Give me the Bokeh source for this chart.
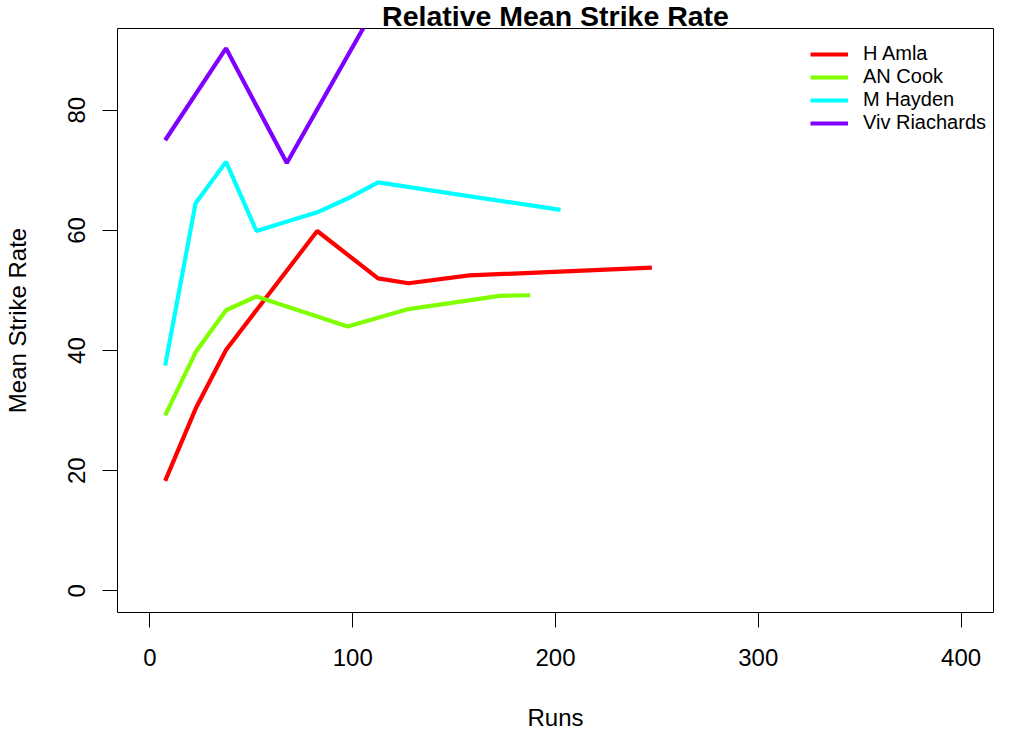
from bokeh.plotting import figure
from bokeh.models import Range1d, Legend, LegendItem, FixedTicker
from bokeh.embed import file_html
from bokeh.resources import INLINE

# Data
players = ["H Amla", "AN Cook", "M Hayden", "Viv Riachards"]
colors = ["#FF0000", "#80FF00", "#00FFFF", "#8000FF"]

amla_runs = [7.5, 22.5, 37.5, 82.5, 112.5, 127.5, 157.5, 247.5]
amla_sr = [18.3, 30.3, 40.1, 59.9, 52.0, 51.2, 52.5, 53.8]

cook_runs = [7.5, 22.5, 37.5, 52.5, 97.5, 127.5, 172.5, 187.5]
cook_sr = [29.2, 39.7, 46.7, 49.0, 44.0, 46.9, 49.1, 49.2]

hayden_runs = [7.5, 22.5, 37.5, 52.5, 82.5, 97.5, 112.5, 202.5]
hayden_sr = [37.5, 64.5, 71.4, 59.9, 63.0, 65.3, 68.0, 63.4]

richards_runs = [7.5, 37.5, 67.5, 112.5]
richards_sr = [75.0, 90.3, 71.2, 98.0]

x_ticks = [0, 100, 200, 300, 400]
y_ticks = [0, 20, 40, 60, 80]

FONT = "Liberation Sans"

p = figure(
    frame_width=876, frame_height=584,
    min_border_left=117, min_border_right=23, min_border_top=28, min_border_bottom=117,
    x_range=Range1d(-16, 416), y_range=Range1d(-3.6, 93.6),
    output_backend="svg", toolbar_location=None,
    title="Relative Mean Strike Rate",
)
p.grid.visible = False
p.outline_line_color = "black"
p.outline_line_width = 1
p.background_fill_color = "white"
p.border_fill_color = "white"

p.title.align = "center"
p.title.text_font = FONT
p.title.text_font_size = "28.5px"
p.title.text_font_style = "bold"
p.title.text_color = "black"
p.title.standoff = -6
p.title.offset = 0

series = [
    (amla_runs, amla_sr),
    (cook_runs, cook_sr),
    (hayden_runs, hayden_sr),
    (richards_runs, richards_sr),
]
items = []
for (xs, ys), name, col in zip(series, players, colors):
    r = p.line(xs, ys, line_color=col, line_width=4.2)
    items.append(LegendItem(label=name, renderers=[r]))

# Axes
for ax in (p.xaxis[0], p.yaxis[0]):
    ax.axis_line_color = None
    ax.major_tick_out = 15
    ax.major_tick_in = 0
    ax.minor_tick_line_color = None
    ax.major_tick_line_color = "black"
    ax.major_label_text_font = FONT
    ax.major_label_text_font_size = "24px"
    ax.major_label_text_color = "black"
    ax.axis_label_text_font = FONT
    ax.axis_label_text_font_size = "24px"
    ax.axis_label_text_font_style = "normal"
    ax.axis_label_text_color = "black"

p.xaxis.ticker = FixedTicker(ticks=x_ticks)
p.yaxis.ticker = FixedTicker(ticks=y_ticks)
p.xaxis.axis_label = "Runs"
p.yaxis.axis_label = "Mean Strike Rate"
p.xaxis.major_label_standoff = 21
p.yaxis.major_label_standoff = 17
p.yaxis.major_label_orientation = "vertical"
p.xaxis.axis_label_standoff = 35
p.yaxis.axis_label_standoff = 35

# Legend
legend = Legend(items=items, location=(693, 478))
legend.border_line_color = None
legend.background_fill_alpha = 0
legend.padding = 0
legend.margin = 0
legend.glyph_width = 38
legend.glyph_height = 22
legend.label_height = 22
legend.spacing = 0
legend.label_standoff = 15
legend.label_text_font = FONT
legend.label_text_font_size = "20px"
legend.label_text_color = "black"
p.add_layout(legend, "center")

open("out.html", "w").write(file_html(p, INLINE))
